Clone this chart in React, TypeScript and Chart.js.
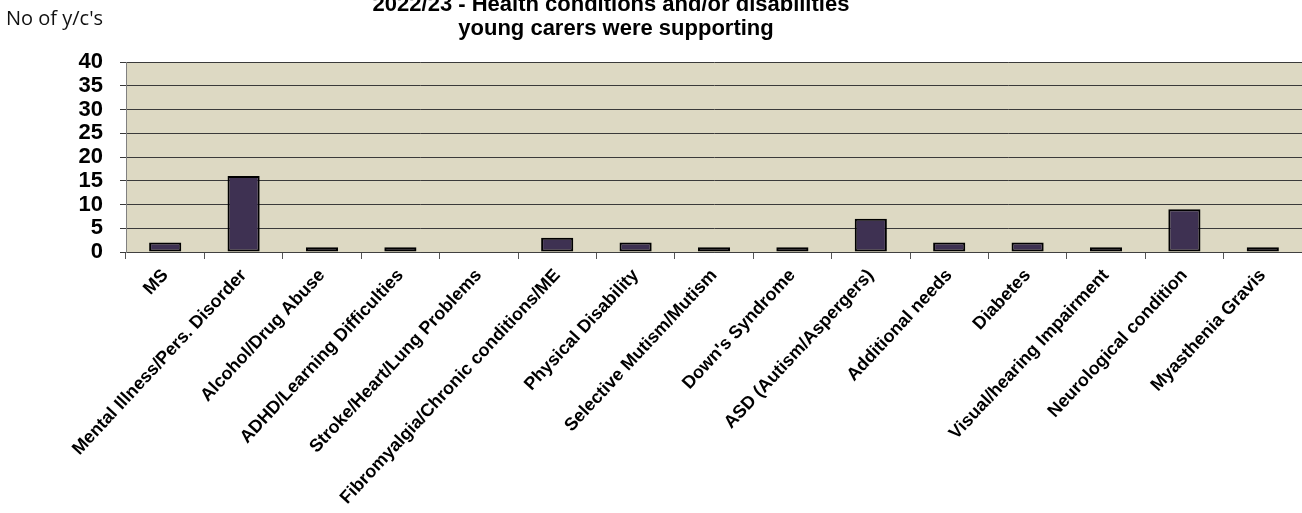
import React, { useEffect, useRef } from "react";
import { Chart, registerables } from "chart.js";

Chart.register(...registerables);

const categories: string[] = [
  "MS",
  "Mental Illness/Pers. Disorder",
  "Alcohol/Drug Abuse",
  "ADHD/Learning Difficulties",
  "Stroke/Heart/Lung Problems",
  "Fibromyalgia/Chronic conditions/ME",
  "Physical Disability",
  "Selective Mutism/Mutism",
  "Down's Syndrome",
  "ASD (Autism/Aspergers)",
  "Additional needs",
  "Diabetes",
  "Visual/hearing Impairment",
  "Neurological condition",
  "Myasthenia Gravis",
];

const counts: number[] = [2, 16, 1, 1, 0, 3, 2, 1, 1, 7, 2, 2, 1, 9, 1];

const titleLines: string[] = [
  "2022/23 - Health conditions and/or disabilities",
  "young carers were supporting",
];
const yAxisCaption = "No of y/c's";

const W = 1302;
const H = 513;

export default function App() {
  const ref = useRef<HTMLCanvasElement | null>(null);

  useEffect(() => {
    if (!ref.current) return;
    const textPlugin = {
      id: "customText",
      beforeDraw(chart: any) {
        const { ctx, chartArea } = chart;
        ctx.save();
        ctx.fillStyle = "#ddd9c3";
        ctx.fillRect(
          chartArea.left,
          chartArea.top,
          chartArea.right - chartArea.left,
          chartArea.bottom - chartArea.top
        );
        ctx.restore();
      },
      afterDraw(chart: any) {
        const { ctx } = chart;
        ctx.save();
        ctx.fillStyle = "#000000";
        ctx.textAlign = "center";
        ctx.textBaseline = "alphabetic";
        ctx.font = "bold 22px 'Liberation Sans', Arial, sans-serif";
        ctx.fillText(titleLines[0], 611, 11);
        ctx.fillText(titleLines[1], 616, 35);
        ctx.textAlign = "left";
        ctx.fillStyle = "#111111";
        ctx.font = "20px 'Open Sans', sans-serif";
        ctx.fillText(yAxisCaption, 6, 25);
        ctx.restore();
      },
    };

    const chart = new Chart(ref.current, {
      type: "bar",
      data: {
        labels: categories,
        datasets: [
          {
            data: counts,
            backgroundColor: "#3e3152",
            borderColor: "#000000",
            borderWidth: 2,
            borderSkipped: false,
            categoryPercentage: 1,
            barPercentage: 0.41,
          },
        ],
      },
      options: {
        responsive: false,
        animation: false,
        devicePixelRatio: 1,
        layout: { padding: { top: 62, left: 0, right: 0, bottom: 0 } },
        plugins: {
          legend: { display: false },
          tooltip: { enabled: false },
          title: { display: false },
        },
        scales: {
          x: {
            offset: true,
            grid: {
              offset: true,
              drawOnChartArea: false,
              drawTicks: true,
              tickLength: 7,
              color: "#555555",
            },
            border: { display: true, color: "#404040", width: 1 },
            ticks: {
              autoSkip: false,
              minRotation: 47,
              maxRotation: 47,
              padding: 6,
              color: "#000000",
              font: { family: "'Liberation Sans', Arial, sans-serif", size: 18, weight: "bold" },
            },
            afterFit(scale: any) {
              scale.height = 261;
            },
          },
          y: {
            min: 0,
            max: 40,
            ticks: {
              stepSize: 5,
              autoSkip: false,
              padding: 17,
              color: "#000000",
              font: { family: "'Liberation Sans', Arial, sans-serif", size: 22, weight: "bold", lineHeight: 1 },
            },
            grid: {
              color: "#3a3a3a",
              lineWidth: 1,
              drawTicks: true,
              tickLength: 6,
            },
            border: { display: true, color: "#808080", width: 1 },
            afterFit(scale: any) {
              scale.width = 126;
            },
          },
        },
      },
      plugins: [textPlugin],
    });

    return () => chart.destroy();
  }, []);

  return (
    <div style={{ position: "fixed", left: 0, top: 0, width: W, height: H, background: "#ffffff" }}>
      <canvas ref={ref} width={W} height={H} style={{ width: W, height: H, display: "block" }} />
    </div>
  );
}
